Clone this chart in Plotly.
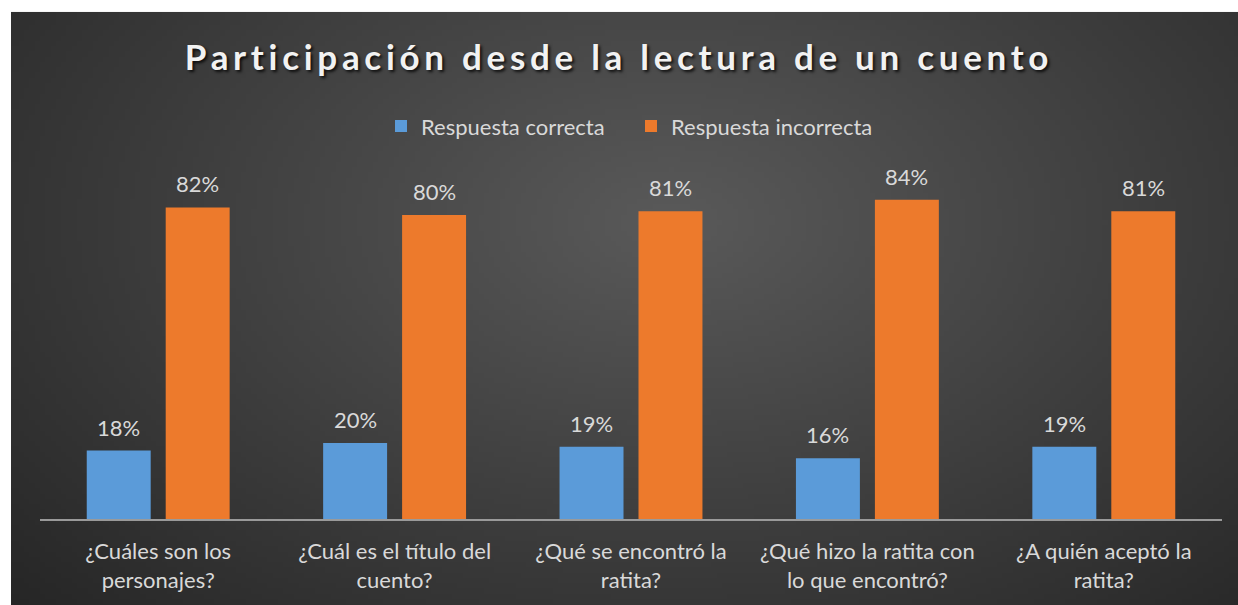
import base64
import struct
import zlib

import plotly.graph_objects as go

preguntas = [
    "¿Cuáles son los<br>personajes?",
    "¿Cuál es el título del<br>cuento?",
    "¿Qué se encontró la<br>ratita?",
    "¿Qué hizo la ratita con<br>lo que encontró?",
    "¿A quién aceptó la<br>ratita?",
]
correcta = [0.18, 0.20, 0.19, 0.16, 0.19]
incorrecta = [0.82, 0.80, 0.81, 0.84, 0.81]

W, H = 1238, 605
L, R, T, B = 40, 16, 177, 84
FONT = "Lato"


def radial_png(w, h, cx, cy, inner, outer):
    # small radial gradient, stretched behind the chart
    rows = b""
    for j in range(h):
        row = b"\x00"
        for i in range(w):
            dx = (i / (w - 1) - cx) / 0.72
            dy = (j / (h - 1) - cy) / 0.9
            d = min(1.0, (dx * dx + dy * dy) ** 0.5)
            c = [int(inner[k] + (outer[k] - inner[k]) * d) for k in range(3)]
            row += bytes(c)
        rows += row

    def chunk(tag, data):
        return (struct.pack(">I", len(data)) + tag + data
                + struct.pack(">I", zlib.crc32(tag + data) & 0xffffffff))

    png = (b"\x89PNG\r\n\x1a\n"
           + chunk(b"IHDR", struct.pack(">IIBBBBB", w, h, 8, 2, 0, 0, 0))
           + chunk(b"IDAT", zlib.compress(rows, 9))
           + chunk(b"IEND", b""))
    return "data:image/png;base64," + base64.b64encode(png).decode()


bg = radial_png(240, 120, 0.52, 0.33, (90, 90, 90), (38, 38, 38))

fig = go.Figure()
fig.add_trace(go.Bar(name="Respuesta correcta", x=preguntas, y=correcta,
                     marker=dict(color="#5b9bd9", line=dict(width=0))))
fig.add_trace(go.Bar(name="Respuesta incorrecta", x=preguntas, y=incorrecta,
                     marker=dict(color="#ed7a2c", line=dict(width=0))))

# data labels above bars
for vals, shift in ((correcta, -39.5), (incorrecta, 39.5)):
    for q, v in zip(preguntas, vals):
        fig.add_annotation(x=q, y=v, text=f"{round(v * 100)}%", showarrow=False,
                           xshift=shift, yshift=8, yanchor="bottom",
                           font=dict(family=FONT, size=22, color="#d9d9d9"))

# background panel runs past the right/bottom edges of the canvas
pw, ph = W - L - R, H - T - B
fig.add_layout_image(source=bg, xref="paper", yref="paper",
                     x=(11 - L) / pw, y=(H - B - 11) / ph,
                     sizex=(W + 30) / pw, sizey=(H + 30) / ph,
                     sizing="stretch", xanchor="left", yanchor="top",
                     layer="below")

fig.update_layout(
    width=W, height=H,
    margin=dict(l=L, r=R, t=T, b=B),
    paper_bgcolor="white",
    plot_bgcolor="rgba(0,0,0,0)",
    barmode="group", bargap=0.332, bargroupgap=0.19,
    title=dict(text="<b>Participación desde la lectura de un cuento</b>",
               x=0.5, xanchor="center", y=1 - 58 / H, yanchor="middle",
               font=dict(family=FONT, size=35, color="#f2f2f2",
                         shadow="2px 2px 3px rgba(0,0,0,0.8)")),
    legend=dict(orientation="h", x=0.5, xanchor="center",
                y=(H - B - 126) / ph, yanchor="middle",
                entrywidth=205, entrywidthmode="pixels",
                font=dict(family=FONT, size=22, color="#d9d9d9"),
                bgcolor="rgba(0,0,0,0)"),
    showlegend=True,
    font=dict(family=FONT),
)
fig.update_xaxes(showline=True, linecolor="#9a9a9a", linewidth=2,
                 showgrid=False, ticks="", ticklabelstandoff=12,
                 tickfont=dict(family=FONT, size=22, color="#d9d9d9"))
fig.update_yaxes(range=[0, 0.9], visible=False, showgrid=False, zeroline=False)

# drop the page margin/scrollbars, and letter-space the title like the original
js = ("document.body.style.margin='0';"
      "document.body.style.overflow='hidden';"
      "document.documentElement.style.overflow='hidden';"
      "document.querySelectorAll('.gtitle').forEach(function(e){"
      "e.style.letterSpacing='4.7px';});")
fig.write_html("out.html", post_script=js, config={"displayModeBar": False})
